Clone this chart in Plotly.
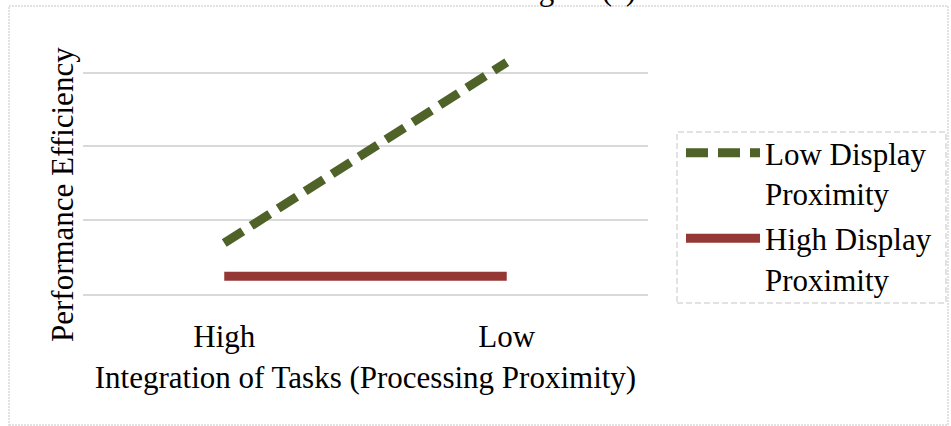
import plotly.graph_objects as go

# ---- data ----
categories = ["High", "Low"]
low_display = [0.69, 3.14]
high_display = [0.24, 0.24]
series_names = ["Low Display<br>Proximity", "High Display<br>Proximity"]

W, H = 951, 426
L, R, T, B = 83, 648, 0, 294  # plot area in pixels


def px_x(p):
    return (p - L) / (R - L)


def px_y(p):
    return (B - p) / (B - T)


FONT = "Liberation Serif, Times New Roman, serif"
GRID = "#d9d9d9"

fig = go.Figure()
fig.add_trace(go.Scatter(
    x=categories, y=low_display, mode="lines", name=series_names[0],
    legendgroup="a",
    line=dict(color="#4f6228", width=9, dash="22px,10px"),
))
fig.add_trace(go.Scatter(
    x=categories, y=high_display, mode="lines", name=series_names[1],
    legendgroup="b",
    line=dict(color="#953735", width=9),
))

fig.update_layout(
    width=W, height=H,
    margin=dict(l=L, r=W - R, t=T, b=H - B, pad=0),
    paper_bgcolor="white", plot_bgcolor="white",
    font=dict(family=FONT, size=31, color="black"),
    showlegend=True,
    legend=dict(
        x=px_x(681), y=px_y(126), xanchor="left", yanchor="top",
        font=dict(family=FONT, size=31, color="black"),
        bgcolor="rgba(0,0,0,0)", borderwidth=0,
        itemwidth=74, valign="top", tracegroupgap=2,
    ),
    xaxis=dict(
        type="category", range=[-0.5, 1.5],
        showgrid=False, zeroline=False,
        showline=True, linecolor=GRID, linewidth=2,
        ticks="outside", ticklen=14, tickcolor="rgba(0,0,0,0)",
        tickfont=dict(family=FONT, size=31),
        title=dict(text="Integration of Tasks (Processing Proximity)",
                   font=dict(family=FONT, size=31), standoff=13),
        automargin=False, fixedrange=True,
    ),
    yaxis=dict(
        range=[0, (B - T) / 73.8], dtick=1, tick0=0,
        showgrid=True, gridcolor=GRID, gridwidth=2,
        zeroline=False, showticklabels=False, showline=False,
        automargin=False, fixedrange=True,
    ),
    annotations=[
        dict(text="Performance Efficiency", textangle=-90,
             xref="paper", yref="paper", x=px_x(62), y=px_y(195),
             xanchor="center", yanchor="middle", showarrow=False,
             font=dict(family=FONT, size=31, color="black")),
        dict(text="Figure (c)",
             xref="paper", yref="paper", x=px_x(574), y=px_y(-10),
             xanchor="center", yanchor="middle", showarrow=False,
             font=dict(family=FONT, size=31, color="black")),
    ],
    shapes=[
        dict(type="rect", xref="paper", yref="paper",
             x0=px_x(9), x1=px_x(948), y0=px_y(425), y1=px_y(6),
             line=dict(color=GRID, width=1.5, dash="2px,1px"), layer="below"),
        dict(type="rect", xref="paper", yref="paper",
             x0=px_x(677), x1=px_x(946), y0=px_y(303), y1=px_y(132),
             line=dict(color=GRID, width=1.5, dash="6px,3px"), layer="below"),
    ],
)

fig.write_html(
    "out.html",
    config={"displayModeBar": False},
    post_script="document.body.style.margin='0';document.body.style.overflow='hidden';",
)
